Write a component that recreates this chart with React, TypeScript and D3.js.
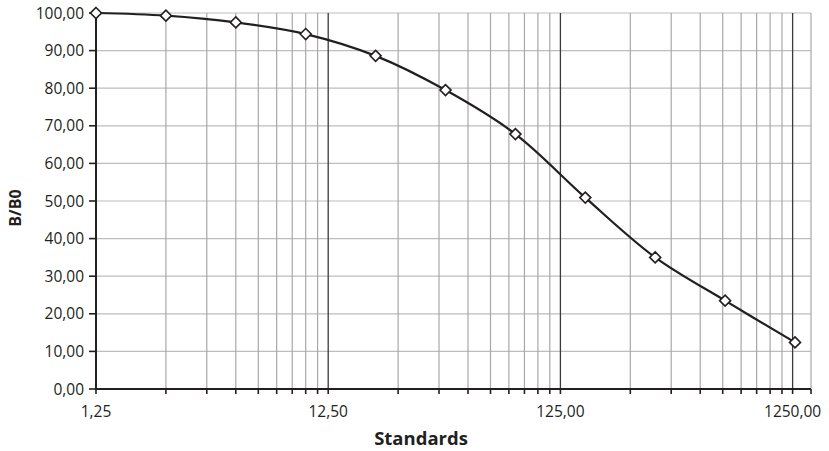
import React, { useEffect, useRef } from 'react';
import * as d3 from 'd3';

// standards (doubling dilution) and measured B/B0 in %
const standards = [1.25, 2.5, 5, 10, 20, 40, 80, 160, 320, 640, 1280];
const bB0 = [100, 99.3, 97.5, 94.4, 88.6, 79.5, 67.8, 50.9, 35.0, 23.5, 12.4];

const xMajorTicks = [1.25, 12.5, 125, 1250];
const xMinorMultiples = [2, 3, 4, 5, 6, 7, 8, 9];
const yTicks = [0, 10, 20, 30, 40, 50, 60, 70, 80, 90, 100];

const fmt = (v: number) => d3.format('.2f')(v).replace('.', ',');

const App = () => {
  const ref = useRef<SVGSVGElement>(null);

  useEffect(() => {
    const svg = d3.select(ref.current);
    svg.selectAll('*').remove();

    const width = 829;
    const height = 451;
    const left = 96, right = 811, top = 13, bottom = 389;
    const ink = '#231f20';
    const font = "'Open Sans', sans-serif";

    svg.attr('width', width).attr('height', height);

    const x = d3.scaleLog().domain([1.25, 1500]).range([left, right]);
    const y = d3.scaleLinear().domain([0, 100]).range([bottom, top]);

    // minor log grid: 1.25 * k * 10^n
    const minor: number[] = [];
    xMajorTicks.slice(0, 3).forEach(m => xMinorMultiples.forEach(k => minor.push(m * k)));
    const allX = [...minor, ...xMajorTicks, 1500];

    // horizontal grid
    svg.append('g')
      .selectAll('line')
      .data(yTicks.filter(d => d > 0))
      .enter()
      .append('line')
      .attr('x1', left).attr('x2', right)
      .attr('y1', d => y(d)).attr('y2', d => y(d))
      .attr('stroke', '#bdbdbd').attr('stroke-width', 1.2);

    // vertical minor grid
    svg.append('g')
      .selectAll('line')
      .data([...minor, 1500])
      .enter()
      .append('line')
      .attr('x1', d => x(d)).attr('x2', d => x(d))
      .attr('y1', top).attr('y2', bottom)
      .attr('stroke', '#a8a8a8').attr('stroke-width', 1.2);

    // vertical major grid
    svg.append('g')
      .selectAll('line')
      .data(xMajorTicks.slice(1))
      .enter()
      .append('line')
      .attr('x1', d => x(d)).attr('x2', d => x(d))
      .attr('y1', top).attr('y2', bottom)
      .attr('stroke', '#3a3a3a').attr('stroke-width', 1.3);

    // axes
    svg.append('line')
      .attr('x1', left).attr('x2', right).attr('y1', bottom).attr('y2', bottom)
      .attr('stroke', ink).attr('stroke-width', 2);
    svg.append('line')
      .attr('x1', left).attr('x2', left).attr('y1', top).attr('y2', bottom + 1)
      .attr('stroke', ink).attr('stroke-width', 2);

    // x ticks
    svg.append('g')
      .selectAll('line')
      .data(allX)
      .enter()
      .append('line')
      .attr('x1', d => x(d)).attr('x2', d => x(d))
      .attr('y1', bottom).attr('y2', bottom + 5)
      .attr('stroke', ink).attr('stroke-width', 1.6);

    svg.append('g')
      .selectAll('text')
      .data(xMajorTicks)
      .enter()
      .append('text')
      .attr('x', d => x(d))
      .attr('y', bottom + 28)
      .attr('text-anchor', 'middle')
      .attr('font-family', font)
      .attr('font-size', 15.5)
      .attr('fill', ink)
      .text(d => fmt(d));

    // y ticks
    svg.append('g')
      .selectAll('line')
      .data(yTicks)
      .enter()
      .append('line')
      .attr('x1', left - 7).attr('x2', left)
      .attr('y1', d => y(d)).attr('y2', d => y(d))
      .attr('stroke', ink).attr('stroke-width', 1.6);

    svg.append('g')
      .selectAll('text')
      .data(yTicks)
      .enter()
      .append('text')
      .attr('x', left - 12)
      .attr('y', d => y(d) + 5.5)
      .attr('text-anchor', 'end')
      .attr('font-family', font)
      .attr('font-size', 15.5)
      .attr('fill', ink)
      .text(d => fmt(d));

    // axis titles
    svg.append('text')
      .attr('x', 421)
      .attr('y', 445)
      .attr('text-anchor', 'middle')
      .attr('font-family', font)
      .attr('font-weight', 'bold')
      .attr('font-size', 18.5)
      .attr('fill', ink)
      .text('Standards');

    svg.append('text')
      .attr('transform', 'translate(21, 208) rotate(-90)')
      .attr('text-anchor', 'middle')
      .attr('font-family', font)
      .attr('font-weight', 'bold')
      .attr('font-size', 16)
      .attr('fill', ink)
      .text('B/B0');

    // smoothed curve
    const pts = standards.map((s, i) => [s, bB0[i]] as [number, number]);
    const line = d3.line<[number, number]>()
      .x(d => x(d[0]))
      .y(d => y(d[1]))
      .curve(d3.curveCatmullRom.alpha(0.5));

    svg.append('path')
      .datum(pts)
      .attr('d', line)
      .attr('fill', 'none')
      .attr('stroke', ink)
      .attr('stroke-width', 2.2);

    // diamond markers
    svg.append('g')
      .selectAll('path')
      .data(pts)
      .enter()
      .append('path')
      .attr('transform', d => `translate(${x(d[0])},${y(d[1])})`)
      .attr('d', 'M0,-5.5L5.5,0L0,5.5L-5.5,0Z')
      .attr('fill', '#fff')
      .attr('stroke', ink)
      .attr('stroke-width', 1.6);
  }, []);

  return <svg ref={ref} style={{ position: 'absolute', left: 0, top: 0 }} />;
};

export default App;
